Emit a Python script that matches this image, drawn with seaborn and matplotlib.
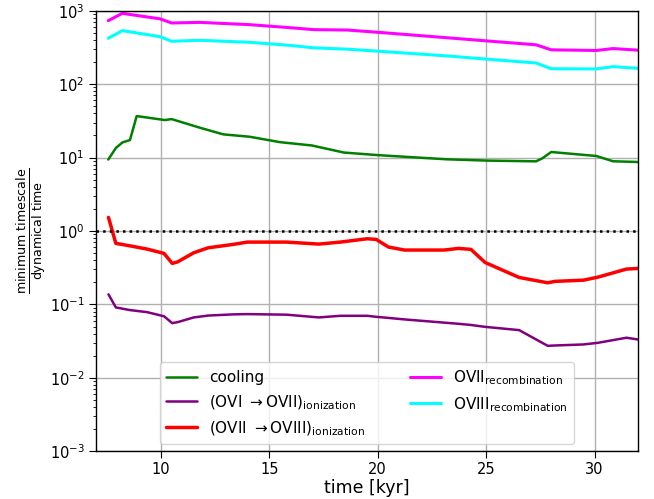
import numpy as np
import pandas as pd
import matplotlib
matplotlib.use("Agg")
import matplotlib.pyplot as plt
import seaborn as sns

# --- data ---
t_cool = [7.58, 7.94, 8.24, 8.58, 8.89, 10.19, 10.5, 11.8, 12.88, 14.1, 15.5, 16.97, 18.44, 19.99, 23.2, 25.1, 27.3, 27.6, 28.0, 30.08, 30.85, 32.0]
cooling = [9.4, 13.6, 16.1, 17.3, 36.7, 32.4, 33.4, 25.5, 20.7, 19.2, 16.2, 14.6, 11.7, 10.8, 9.46, 9.08, 8.88, 9.8, 11.9, 10.5, 8.9, 8.7]

t_ion = [7.59, 7.93, 8.55, 9.37, 10.15, 10.53, 10.78, 11.52, 12.18, 13.33, 13.99, 15.8, 17.29, 18.28, 19.52, 19.93, 20.5, 21.24, 23.06, 23.72, 24.3, 24.95, 26.52, 27.84, 28.17, 29.49, 30.15, 31.47, 32.0]
ion_67 = [0.137, 0.091, 0.084, 0.0785, 0.069, 0.0556, 0.0574, 0.0665, 0.0705, 0.0732, 0.0738, 0.0725, 0.0665, 0.0700, 0.0700, 0.0678, 0.0655, 0.0625, 0.0565, 0.0545, 0.0525, 0.0495, 0.0447, 0.0273, 0.0276, 0.0285, 0.0300, 0.0352, 0.0333]
ion_78 = [1.53, 0.678, 0.63, 0.567, 0.495, 0.362, 0.38, 0.505, 0.59, 0.656, 0.706, 0.706, 0.663, 0.706, 0.784, 0.768, 0.604, 0.55, 0.55, 0.579, 0.562, 0.373, 0.233, 0.197, 0.206, 0.214, 0.235, 0.303, 0.309]

t_rec = [7.58, 8.23, 9.96, 10.5, 11.8, 14.1, 15.95, 17.05, 18.6, 20.0, 23.2, 25.1, 27.3, 28.0, 30.08, 30.85, 32.0]
rec_7 = [731, 920, 775, 680, 693, 645, 587, 552, 545, 508, 428, 386, 343, 293, 287, 305, 290]
rec_8 = [421, 535, 443, 383, 395, 371, 337, 312, 299, 281, 242, 218, 194, 162, 161, 173, 164]

labels = ["cooling",
          r"(OVI $\rightarrow$OVII)$_{\rm ionization}$",
          r"(OVII $\rightarrow$OVIII)$_{\rm ionization}$",
          r"OVII$_{\rm recombination}$",
          r"OVIII$_{\rm recombination}$"]
colors = ["green", "purple", "red", "magenta", "cyan"]
widths = [1.8, 1.8, 2.5, 2.2, 2.2]

sns.set_style("ticks")
plt.rcParams["font.family"] = ["DejaVu Sans"]
plt.rcParams["mathtext.default"] = "regular"
for k in ["text.color", "axes.labelcolor", "xtick.color", "ytick.color"]:
    plt.rcParams[k] = "black"

fig = plt.figure(figsize=(6.54, 4.99), dpi=100)
ax = fig.add_axes([0.1463, 0.0956, 0.8292, 0.883])

series = [(t_cool, cooling), (t_ion, ion_67), (t_ion, ion_78), (t_rec, rec_7), (t_rec, rec_8)]
for (t, v), lab, c, lw in zip(series, labels, colors, widths):
    sns.lineplot(x=t, y=v, ax=ax, color=c, lw=lw, label=lab, estimator=None, sort=False)

ax.axhline(1.0, color="black", ls=":", lw=1.8)

ax.set_yscale("log")
ax.set_xlim(7, 32)
ax.set_ylim(1e-3, 1e3)
ax.set_xticks([10, 15, 20, 25, 30])
ax.grid(True, which="major", color="#b0b0b0", lw=1.0)
for s in ax.spines.values():
    s.set_visible(True)
    s.set_color("black")
    s.set_linewidth(1.0)
ax.tick_params(axis="both", which="major", labelsize=10.5, length=5, direction="out", color="black", pad=3)
ax.tick_params(axis="y", which="minor", length=2.5, direction="out", color="black")

ax.set_xlabel("time [kyr]", fontsize=12.5, labelpad=1)
ax.set_ylabel(r"$\frac{\mathrm{minimum\ timescale}}{\mathrm{dynamical\ time}}$", fontsize=13, labelpad=1.5)

leg = ax.legend(loc="lower center", ncol=2, fontsize=11, frameon=True, borderaxespad=0.5,
                columnspacing=3.0, handlelength=2.0)
for txt in leg.get_texts():
    txt.set_color("black")

fig.savefig("out.png", dpi=100)
